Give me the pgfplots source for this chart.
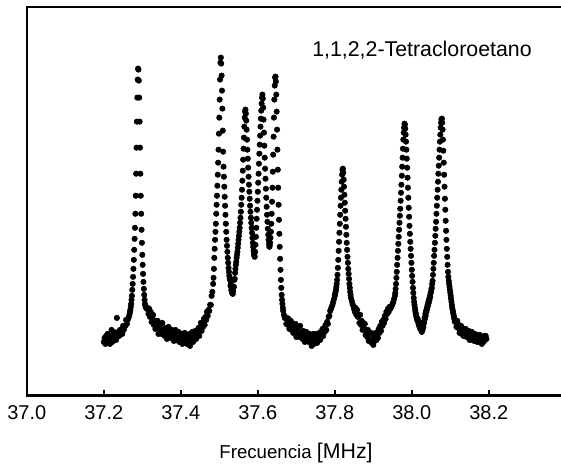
\documentclass[border=0pt]{standalone}
\usepackage{fontspec}
\setmainfont{Liberation Sans}
\usepackage{pgfplots}
\pgfplotsset{compat=1.18}
\pgfplotstableread{
x y
37.200 58
37.202 62
37.204 56
37.206 64
37.208 60
37.210 66
37.212 58
37.214 62
37.216 56
37.218 64
37.220 70
37.222 58
37.224 62
37.226 68
37.228 60
37.230 66
37.232 60
37.234 82
37.236 64
37.238 68
37.240 64
37.242 70
37.244 66
37.246 70
37.248 66
37.250 74
37.252 70
37.254 74
37.256 74
37.258 80
37.260 76
37.262 80
37.264 82
37.266 84
37.267 86
37.268 88
37.269 90
37.270 93
37.271 96
37.272 100
37.273 104
37.274 110
37.275 116
37.276 123
37.277 131
37.278 140
37.279 150
37.280 161
37.281 172
37.282 186
37.283 204
37.284 226
37.285 252
37.286 278
37.287 302
37.288 320
37.289 331
37.290 330
37.291 319
37.292 302
37.293 278
37.294 252
37.295 226
37.296 204
37.297 186
37.298 170
37.299 157
37.300 145
37.301 135
37.302 126
37.303 118
37.304 111
37.305 105
37.306 100
37.307 96
37.308 94
37.309 93
37.310 92
37.311 92
37.312 91
37.314 92
37.316 86
37.318 91
37.320 83
37.322 88
37.324 78
37.326 82
37.328 85
37.330 75
37.332 78
37.334 71
37.336 79
37.338 72
37.340 79
37.342 66
37.344 75
37.346 70
37.348 76
37.350 66
37.352 77
37.354 68
37.356 71
37.358 64
37.360 72
37.362 68
37.364 61
37.366 70
37.368 73
37.370 63
37.372 67
37.374 62
37.376 70
37.378 63
37.380 68
37.382 59
37.384 66
37.386 70
37.388 60
37.390 65
37.392 60
37.394 68
37.396 58
37.398 65
37.400 62
37.402 66
37.404 56
37.406 65
37.408 60
37.410 67
37.412 57
37.414 61
37.416 56
37.418 64
37.420 58
37.422 66
37.424 54
37.426 64
37.428 60
37.430 68
37.432 58
37.434 66
37.436 62
37.438 69
37.440 61
37.442 69
37.444 64
37.446 72
37.448 64
37.450 72
37.452 77
37.454 69
37.456 77
37.458 73
37.460 81
37.462 75
37.464 83
37.466 80
37.468 88
37.470 84
37.472 90
37.474 89
37.476 95
37.478 95
37.480 104
37.482 108
37.484 116
37.485 122
37.486 131
37.487 142
37.488 151
37.489 160
37.490 168
37.491 176
37.492 186
37.493 195
37.494 204
37.495 214
37.496 225
37.497 237
37.498 250
37.499 266
37.500 282
37.501 300
37.502 320
37.503 337
37.504 342
37.505 336
37.506 324
37.507 309
37.508 291
37.509 269
37.510 248
37.511 233
37.512 223
37.513 213
37.514 203
37.515 194
37.516 185
37.517 176
37.518 168
37.519 160
37.520 154
37.521 148
37.522 142
37.523 137
37.524 132
37.525 128
37.526 124
37.527 121
37.528 120
37.529 114
37.530 116
37.531 110
37.532 113
37.533 107
37.534 110
37.535 106
37.536 109
37.537 113
37.538 113
37.539 120
37.540 121
37.541 127
37.542 131
37.543 135
37.544 138
37.545 142
37.546 145
37.547 148
37.548 152
37.549 156
37.550 160
37.551 164
37.552 168
37.553 172
37.554 177
37.555 182
37.556 188
37.557 195
37.558 202
37.559 210
37.560 219
37.561 229
37.562 240
37.563 251
37.564 262
37.565 273
37.566 282
37.567 288
37.568 290
37.569 286
37.570 279
37.571 270
37.572 260
37.573 250
37.574 241
37.575 232
37.576 223
37.577 215
37.578 208
37.579 201
37.580 194
37.581 188
37.582 182
37.583 177
37.584 172
37.585 167
37.586 162
37.587 157
37.588 153
37.589 149
37.590 146
37.591 144
37.592 143
37.593 148
37.594 155
37.595 163
37.596 172
37.597 181
37.598 190
37.599 199
37.600 208
37.601 217
37.602 226
37.603 236
37.604 246
37.605 255
37.606 264
37.607 273
37.608 281
37.609 289
37.610 296
37.611 302
37.612 305
37.613 301
37.614 292
37.615 280
37.616 267
37.617 254
37.618 242
37.619 231
37.620 221
37.621 211
37.622 202
37.623 193
37.624 185
37.625 178
37.626 171
37.627 165
37.628 160
37.629 156
37.630 153
37.631 154
37.632 157
37.633 162
37.634 168
37.635 176
37.636 186
37.637 198
37.638 212
37.639 228
37.640 245
37.641 263
37.642 282
37.643 300
37.644 314
37.645 322
37.646 323
37.647 318
37.648 305
37.649 288
37.650 270
37.651 250
37.652 230
37.653 212
37.654 195
37.655 180
37.656 166
37.657 153
37.658 141
37.659 130
37.660 120
37.661 112
37.662 105
37.663 100
37.664 96
37.665 92
37.666 89
37.668 85
37.670 82
37.672 82
37.674 76
37.676 82
37.678 75
37.680 81
37.682 71
37.684 76
37.686 79
37.688 70
37.690 73
37.692 67
37.694 75
37.696 68
37.698 76
37.700 63
37.702 72
37.704 67
37.706 73
37.708 63
37.710 74
37.712 65
37.714 68
37.716 61
37.718 69
37.720 65
37.722 58
37.724 67
37.726 68
37.728 60
37.730 63
37.732 58
37.734 66
37.736 59
37.738 64
37.740 54
37.742 62
37.744 66
37.746 56
37.748 62
37.750 58
37.752 66
37.754 57
37.756 64
37.758 61
37.760 67
37.762 60
37.764 68
37.766 63
37.768 71
37.770 64
37.772 72
37.774 68
37.776 75
37.778 70
37.780 78
37.782 76
37.784 83
37.786 84
37.788 89
37.790 91
37.792 93
37.794 95
37.796 98
37.798 101
37.800 104
37.801 106
37.802 108
37.803 110
37.804 113
37.805 116
37.806 120
37.807 125
37.808 132
37.809 140
37.810 149
37.811 158
37.812 167
37.813 176
37.814 185
37.815 194
37.816 202
37.817 210
37.818 218
37.819 225
37.820 230
37.821 231
37.822 227
37.823 220
37.824 213
37.825 205
37.826 197
37.827 189
37.828 181
37.829 173
37.830 165
37.831 157
37.832 150
37.833 143
37.834 137
37.835 131
37.836 126
37.837 121
37.838 116
37.839 112
37.840 108
37.841 105
37.842 102
37.844 99
37.846 96
37.848 94
37.850 91
37.852 88
37.854 92
37.856 85
37.858 90
37.860 83
37.862 85
37.864 77
37.866 85
37.868 75
37.870 79
37.872 70
37.874 77
37.876 71
37.878 76
37.880 65
37.882 70
37.884 63
37.886 70
37.888 59
37.890 66
37.892 60
37.894 67
37.896 57
37.898 61
37.900 55
37.902 64
37.904 59
37.906 67
37.908 60
37.910 67
37.912 62
37.914 71
37.916 67
37.918 74
37.920 69
37.922 78
37.924 74
37.926 80
37.928 77
37.930 84
37.932 81
37.934 88
37.936 86
37.938 91
37.940 88
37.942 93
37.944 91
37.945 92
37.946 93
37.948 94
37.950 96
37.952 98
37.954 101
37.956 104
37.957 107
37.958 111
37.959 116
37.960 122
37.961 128
37.962 135
37.963 142
37.964 149
37.965 156
37.966 163
37.967 170
37.968 177
37.969 184
37.970 191
37.971 199
37.972 207
37.973 215
37.974 224
37.975 233
37.976 242
37.977 251
37.978 260
37.979 267
37.980 272
37.981 276
37.982 275
37.983 271
37.984 265
37.985 258
37.986 250
37.987 241
37.988 232
37.989 222
37.990 212
37.991 202
37.992 192
37.993 183
37.994 174
37.995 166
37.996 158
37.997 151
37.998 144
37.999 137
38.000 130
38.001 124
38.002 118
38.003 112
38.004 107
38.005 102
38.006 98
38.007 95
38.008 92
38.009 89
38.010 87
38.011 85
38.012 83
38.013 82
38.014 80
38.015 81
38.016 78
38.017 79
38.018 75
38.019 77
38.020 73
38.021 75
38.022 71
38.023 74
38.024 70
38.025 73
38.026 68
38.027 72
38.028 70
38.029 74
38.030 73
38.031 78
38.032 77
38.033 82
38.034 81
38.035 86
38.036 84
38.037 89
38.038 88
38.039 92
38.040 91
38.041 95
38.042 94
38.043 98
38.044 97
38.045 101
38.046 100
38.047 104
38.048 103
38.049 107
38.050 108
38.051 111
38.052 112
38.053 116
38.054 119
38.055 125
38.056 131
38.057 137
38.058 144
38.059 150
38.060 157
38.061 164
38.062 171
38.063 178
38.064 186
38.065 194
38.066 202
38.067 210
38.068 218
38.069 226
38.070 234
38.071 242
38.072 250
38.073 258
38.074 265
38.075 272
38.076 277
38.077 280
38.078 281
38.079 277
38.080 270
38.081 260
38.082 249
38.083 237
38.084 225
38.085 213
38.086 201
38.087 190
38.088 179
38.089 169
38.090 160
38.091 151
38.092 143
38.093 135
38.094 128
38.095 123
38.096 119
38.097 116
38.098 113
38.099 110
38.100 107
38.101 104
38.102 101
38.103 98
38.104 95
38.105 92
38.106 90
38.107 88
38.108 86
38.109 84
38.110 82
38.111 80
38.112 78
38.114 79
38.116 73
38.118 79
38.120 72
38.122 75
38.124 67
38.126 72
38.128 74
38.130 66
38.132 69
38.134 64
38.136 71
38.138 65
38.140 71
38.142 63
38.144 67
38.146 64
38.148 69
38.150 60
38.152 67
38.154 62
38.156 68
38.158 60
38.160 65
38.162 59
38.164 66
38.166 60
38.168 65
38.170 58
38.172 63
38.174 58
38.176 65
38.178 60
38.180 63
38.182 56
38.184 62
38.186 58
38.188 64
38.190 60
38.192 64
38.194 61
}\spectrum
\begin{document}
\begin{tikzpicture}
\begin{axis}[
  scale only axis,
  width=402.5pt, height=291pt,
  xmin=37, xmax=38.39394,
  ymin=4.5, ymax=392.5,
  xtick={37,37.2,37.4,37.6,37.8,38,38.2},
  xticklabel={\pgfmathprintnumber[assume math mode=true,fixed,fixed zerofill,precision=1]{\tick}},
  ytick=\empty,
  xtick pos=left,
  tick align=inside,
  major tick length=4.5pt,
  tick style={black, line width=1.4pt},
  axis line style={black, line width=1.6pt},
  xticklabel style={font=\fontsize{15}{18}\selectfont, yshift=-4pt},
  xlabel={Frecuencia {\fontsize{16}{19}\selectfont [MHz]}},
  xlabel style={at={(axis description cs:0.5016,-0.163)}, anchor=base, inner sep=0pt, font=\fontsize{14}{17}\selectfont},
]
\addplot[only marks, mark=*, mark size=2.05pt, black] table[x=x, y=y] {\spectrum};
\node[anchor=base west, inner sep=0pt, font=\fontsize{16}{19}\selectfont] at (axis cs:37.7408,343.5) {1,1,2,2-Tetracloroetano};
\end{axis}
\pgfresetboundingbox
\path[use as bounding box] (-20.1pt,-52.125pt) rectangle (400.65pt,296.625pt);
\end{tikzpicture}
\end{document}
